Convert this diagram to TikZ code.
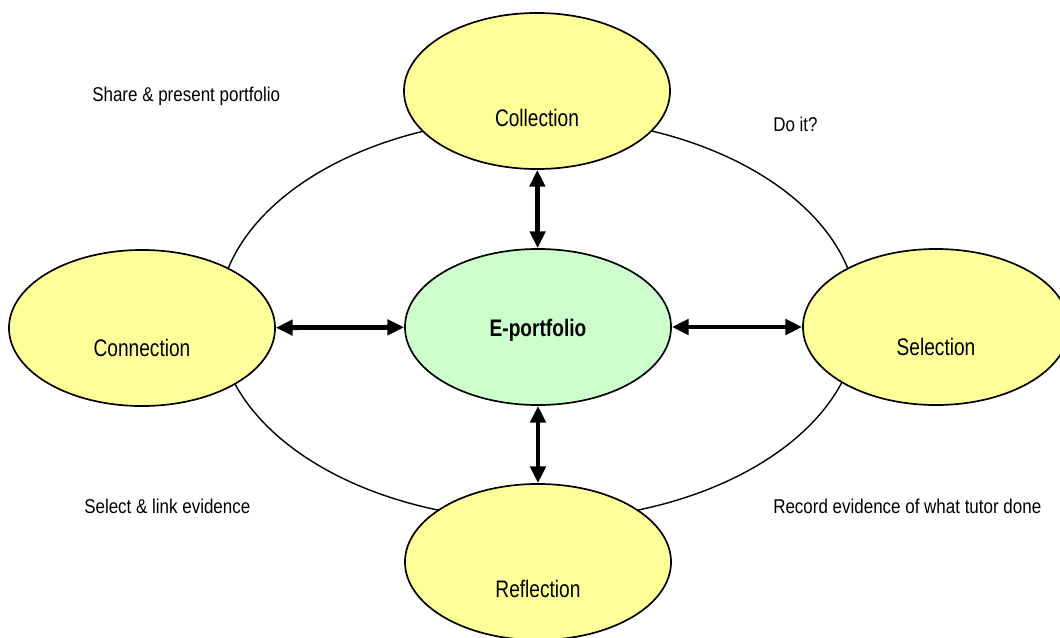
\documentclass[tikz,border=0pt]{standalone}
\usepackage{fontspec}
\setmainfont{Liberation Sans}
\newfontfamily\stagefont{Liberation Sans}[FakeStretch=0.8]
\newfontfamily\notefont{Liberation Sans}[FakeStretch=0.85]
\usetikzlibrary{shapes.geometric,arrows.meta}
\definecolor{stageyellow}{HTML}{FFFF99}
\definecolor{eportgreen}{HTML}{CCFFCC}
\tikzset{
  stage/.style={ellipse,draw,line width=1.2pt,fill=stageyellow,inner sep=0pt,
    minimum width=6.65cm,minimum height=3.9cm,text height=1.4cm,text depth=0pt,
    font=\stagefont\fontsize{17}{20}\selectfont},
  note/.style={anchor=west,inner sep=0pt,font=\notefont\fontsize{14.2}{17}\selectfont},
  link/.style={{Triangle[length=0.42cm,width=0.38cm]}-{Triangle[length=0.42cm,width=0.38cm]},line width=3.4pt}
}
\begin{document}
\begin{tikzpicture}[x=0.025cm,y=-0.025cm]
\useasboundingbox (0,0) rectangle (1060,638);
\draw[line width=1pt] (538,319) ellipse [x radius=8cm,y radius=5.025cm];
\node[stage,text height=1.78cm] (coll) at (537,91) {Collection};
\node[stage] (conn) at (142,328) {Connection};
\node[stage] (sel) at (936,327) {Selection};
\node[stage,text height=1.78cm] (refl) at (538,562) {Reflection};
\node[stage,fill=eportgreen,text height=0.48cm,font=\stagefont\bfseries\fontsize{17}{20}\selectfont] (eport) at (538,327) {E-portfolio};
\draw[link] (coll) -- (eport);
\draw[link] (conn) -- (eport);
\draw[link] (eport) -- (sel);
\draw[link] (eport) -- (refl);
\node[note] (share) at (92,96) {Share \& present portfolio};
\node[note] (doit) at (773,124) {Do it?};
\node[note] (link) at (84,506) {Select \& link evidence};
\node[note] (record) at (773,506) {Record evidence of what tutor done};
\end{tikzpicture}
\end{document}
